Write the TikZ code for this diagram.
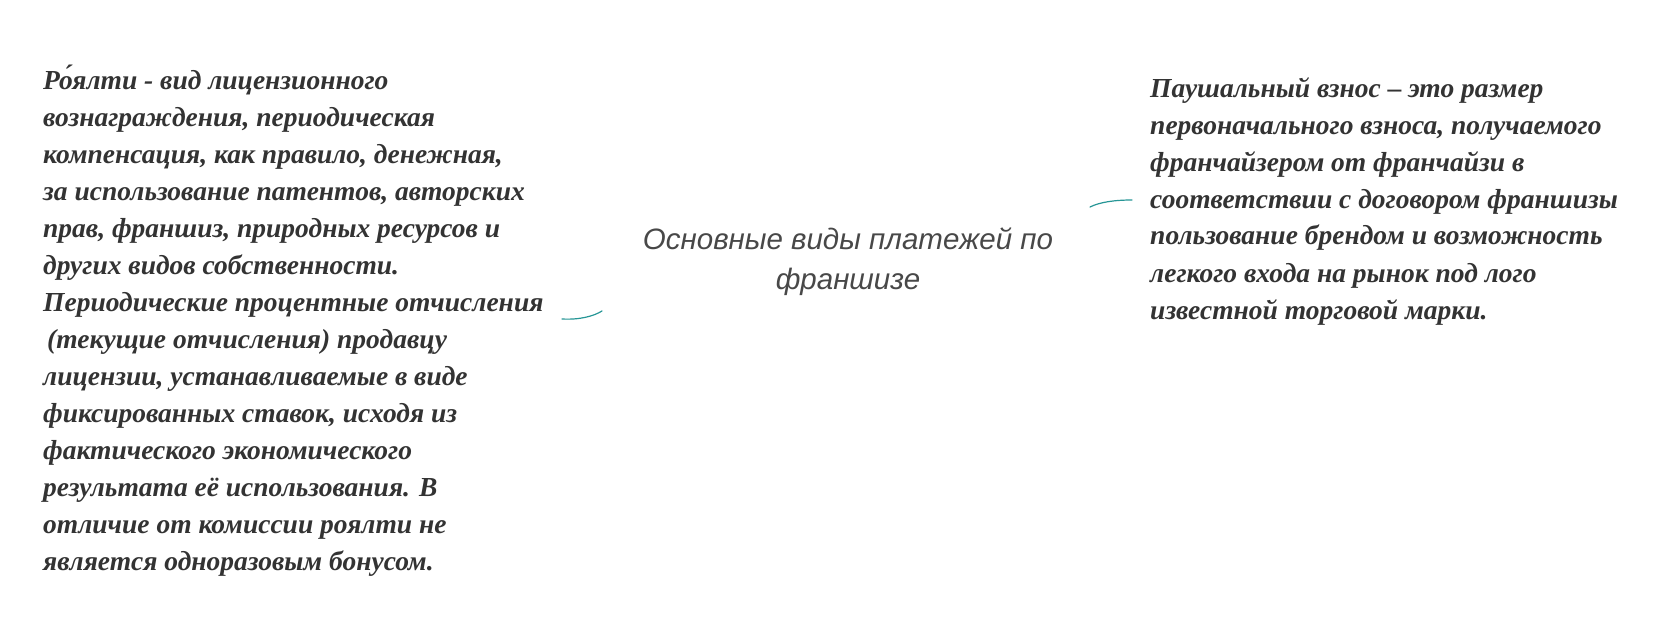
\documentclass[tikz,border=0pt]{standalone}
\usepackage{fontspec}
\usepackage{xcolor}
\usepackage{tikz}
\usetikzlibrary{positioning}
\setmainfont{Liberation Serif}
\newfontfamily\titlefont{Liberation Sans}
\definecolor{inkgray}{RGB}{51,51,51}
\definecolor{titlegray}{RGB}{72,72,72}
\definecolor{branchteal}{RGB}{38,150,150}
\tikzset{
  notetext/.style={anchor=base west, inner sep=0pt, align=left, text=inkgray,
    font=\fontsize{27.5}{37}\selectfont\bfseries\itshape},
  titletext/.style={anchor=base, inner sep=0pt, align=center, text=titlegray,
    font=\titlefont\fontsize{29.5}{40}\selectfont\itshape},
  branch/.style={draw=branchteal, line width=1.2pt, line cap=round}
}

\begin{document}
\begin{tikzpicture}[x=1pt,y=1pt,yscale=-1,xscale=1]
  \path[use as bounding box, fill=white] (0,0) rectangle (1663,639);

  % Text Node (placed by its last line)
  \node [titletext] (paytypes) at (848,290) {Основные виды платежей по\\франшизе};
  % Text Node
  \node [notetext] (royalty) at (43,570) {Ро́ялти -  вид лицензионного\\
    вознаграждения, периодическая\\
    компенсация, как правило, денежная,\\
    за использование патентов, авторских\\
    прав, франшиз, природных ресурсов и\\
    других видов собственности.\\
    Периодические процентные отчисления\\
    \hspace{4pt}(текущие отчисления) продавцу\\
    лицензии, устанавливаемые в виде\\
    фиксированных ставок, исходя из\\
    фактического экономического\\
    результата её использования. В\\
    отличие от комиссии роялти не\\
    является одноразовым бонусом.};
  % Text Node
  \node [notetext] (lumpsum) at (1150,319) {Паушальный взнос – это размер\\
    первоначального взноса, получаемого\\
    франчайзером от франчайзи в\\
    соответствии с договором франшизы\\
    пользование брендом и возможность\\
    легкого входа на рынок под лого\\
    известной торговой марки.};

  %Curve ends
  \coordinate (rootleft) at (602,311);
  \coordinate (royaltytip) at (562,319);
  \coordinate (rootright) at (1090,207);
  \coordinate (lumpsumtip) at (1132,200);
  %Curve Lines
  \draw [branch] (rootleft) .. controls (594,316) and (580,320) .. (royaltytip);
  \draw [branch] (rootright) .. controls (1100,202) and (1115,200) .. (lumpsumtip);
\end{tikzpicture}
\end{document}
